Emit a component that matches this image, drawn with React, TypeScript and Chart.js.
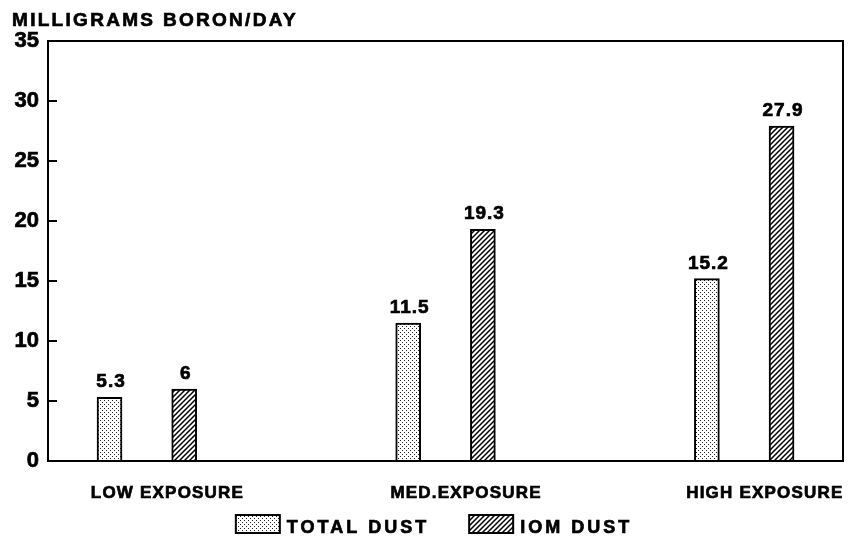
import React, { useEffect, useRef } from 'react';
import { Chart, registerables } from 'chart.js';

Chart.register(...registerables);

const CATEGORIES = ['LOW EXPOSURE', 'MED.EXPOSURE', 'HIGH EXPOSURE'];
const TOTAL_DUST = [5.3, 11.5, 15.2];
const IOM_DUST = [6, 19.3, 27.9];
const VALUE_LABELS_TOTAL = ['5.3', '11.5', '15.2'];
const VALUE_LABELS_IOM = ['6', '19.3', '27.9'];
const SERIES_NAMES = ['TOTAL DUST', 'IOM DUST'];
const Y_MIN = 0;
const Y_MAX = 35;
const Y_STEP = 5;
const Y_TITLE = 'MILLIGRAMS BORON/DAY';

const GROUP_STEP = 4;
const FONT = '"Liberation Sans", Arial, Helvetica, sans-serif';
const TEXT_STROKE = 0.7;

function makeDotPattern(): CanvasPattern | string {
  const c = document.createElement('canvas');
  c.width = 4;
  c.height = 4;
  const g = c.getContext('2d')!;
  g.fillStyle = '#ffffff';
  g.fillRect(0, 0, 4, 4);
  g.fillStyle = '#222';
  g.fillRect(0, 0, 1, 1);
  g.fillRect(2, 2, 1, 1);
  return g.createPattern(c, 'repeat') || '#ccc';
}

function makeHatchPattern(): CanvasPattern | string {
  const s = 5;
  const c = document.createElement('canvas');
  c.width = s;
  c.height = s;
  const g = c.getContext('2d')!;
  g.fillStyle = '#ffffff';
  g.fillRect(0, 0, s, s);
  g.strokeStyle = '#000';
  g.lineWidth = 1.5;
  g.beginPath();
  g.moveTo(-1, s + 1);
  g.lineTo(s + 1, -1);
  g.moveTo(-1, 1);
  g.lineTo(1, -1);
  g.moveTo(s - 1, s + 1);
  g.lineTo(s + 1, s - 1);
  g.stroke();
  return g.createPattern(c, 'repeat') || '#888';
}

function drawSpaced(ctx: CanvasRenderingContext2D, text: string, x: number, y: number, spacing: number, align: 'left' | 'center' | 'right') {
  (ctx as any).letterSpacing = spacing + 'px';
  const w = ctx.measureText(text).width - spacing;
  let sx = x;
  if (align === 'center') sx = x - w / 2;
  else if (align === 'right') sx = x - w;
  ctx.textAlign = 'left';
  ctx.fillText(text, sx, y);
  ctx.strokeStyle = '#000';
  ctx.lineWidth = TEXT_STROKE;
  ctx.strokeText(text, sx, y);
  (ctx as any).letterSpacing = '0px';
  return w;
}

export default function App() {
  const ref = useRef<HTMLCanvasElement | null>(null);

  useEffect(() => {
    document.body.style.margin = '0';
    const canvas = ref.current!;
    const dot = makeDotPattern();
    const hatch = makeHatchPattern();

    const overlay = {
      id: 'overlay',
      afterDraw(chart: any) {
        const { ctx, chartArea } = chart;
        const yScale = chart.scales.y;
        const xScale = chart.scales.x;
        ctx.save();
        // frame
        ctx.strokeStyle = '#000';
        ctx.lineWidth = 2;
        ctx.strokeRect(chartArea.left, chartArea.top, chartArea.right - chartArea.left, chartArea.bottom - chartArea.top);
        // inward ticks
        yScale.ticks.forEach((t: any) => {
          const y = Math.round(yScale.getPixelForValue(t.value));
          ctx.beginPath();
          ctx.moveTo(chartArea.left, y);
          ctx.lineTo(chartArea.left + 9, y);
          ctx.stroke();
        });
        ctx.fillStyle = '#000';
        ctx.textBaseline = 'alphabetic';
        // title
        ctx.font = `bold 19px ${FONT}`;
        drawSpaced(ctx, Y_TITLE, 12, 26, 2.3, 'left');
        // value labels
        ctx.font = `bold 19px ${FONT}`;
        const labelSets = [VALUE_LABELS_TOTAL, VALUE_LABELS_IOM];
        chart.data.datasets.forEach((_ds: any, di: number) => {
          const meta = chart.getDatasetMeta(di);
          meta.data.forEach((bar: any, i: number) => {
            drawSpaced(ctx, labelSets[di][i], bar.x + 1, bar.y - 10, 1, 'center');
          });
        });
        // category labels
        ctx.font = `bold 17px ${FONT}`;
        CATEGORIES.forEach((cat, g) => {
          const x = xScale.getPixelForValue(g * GROUP_STEP + 0.5) + 20;
          drawSpaced(ctx, cat, x, chartArea.bottom + 37, 1.2, 'center');
        });
        // legend
        ctx.font = `bold 18px ${FONT}`;
        const fills = [dot, hatch];
        const boxW = 44;
        const boxH = 18;
        const gapBox = 7;
        const gapItems = 43;
        const spacing = 3;
        const widths = SERIES_NAMES.map((n) => {
          (ctx as any).letterSpacing = spacing + 'px';
          const w = ctx.measureText(n).width - spacing;
          (ctx as any).letterSpacing = '0px';
          return w;
        });
        const total = widths.reduce((a, b) => a + b, 0) + 2 * (boxW + gapBox) + gapItems;
        let lx = (chartArea.left + chartArea.right) / 2 - 13 - total / 2;
        const by = chartArea.bottom + 54;
        SERIES_NAMES.forEach((n, i) => {
          ctx.fillStyle = fills[i];
          ctx.fillRect(lx, by, boxW, boxH);
          ctx.strokeStyle = '#000';
          ctx.lineWidth = 2;
          ctx.strokeRect(lx, by, boxW, boxH);
          ctx.fillStyle = '#000';
          drawSpaced(ctx, n, lx + boxW + gapBox, by + boxH, spacing, 'left');
          lx += boxW + gapBox + widths[i] + gapItems;
        });
        ctx.restore();
      },
    };

    const chart = new Chart(canvas, {
      type: 'bar',
      data: {
        datasets: [
          {
            label: SERIES_NAMES[0],
            data: TOTAL_DUST.map((v, i) => ({ x: i * GROUP_STEP, y: v })),
            backgroundColor: dot as any,
            borderColor: '#000',
            borderWidth: 2,
            borderSkipped: 'bottom',
            grouped: false,
            barThickness: 25,
          },
          {
            label: SERIES_NAMES[1],
            data: IOM_DUST.map((v, i) => ({ x: i * GROUP_STEP + 1, y: v })),
            backgroundColor: hatch as any,
            borderColor: '#000',
            borderWidth: 2,
            borderSkipped: 'bottom',
            grouped: false,
            barThickness: 25,
          },
        ],
      },
      options: {
        animation: false,
        responsive: false,
        maintainAspectRatio: false,
        layout: { padding: { left: 0, right: 5, top: 41, bottom: 78 } },
        plugins: {
          legend: { display: false },
          title: { display: false },
          tooltip: { enabled: false },
        },
        scales: {
          x: {
            type: 'linear',
            display: false,
            offset: false,
            grid: { offset: false },
            min: -0.824,
            max: 9.823,
          },
          y: {
            min: Y_MIN,
            max: Y_MAX,
            border: { display: false },
            grid: { display: false, drawTicks: false },
            ticks: {
              stepSize: Y_STEP,
              padding: 9,
              color: '#000',
              textStrokeColor: '#000',
              textStrokeWidth: TEXT_STROKE,
              font: { family: FONT, size: 22, weight: 'bold' },
            },
            afterFit(scale: any) {
              scale.width = 48;
            },
          },
        },
      },
      plugins: [overlay],
    });

    return () => chart.destroy();
  }, []);

  return (
    <div style={{ width: 848, height: 539, background: '#fff' }}>
      <canvas ref={ref} width={848} height={539} style={{ display: 'block' }} />
    </div>
  );
}
